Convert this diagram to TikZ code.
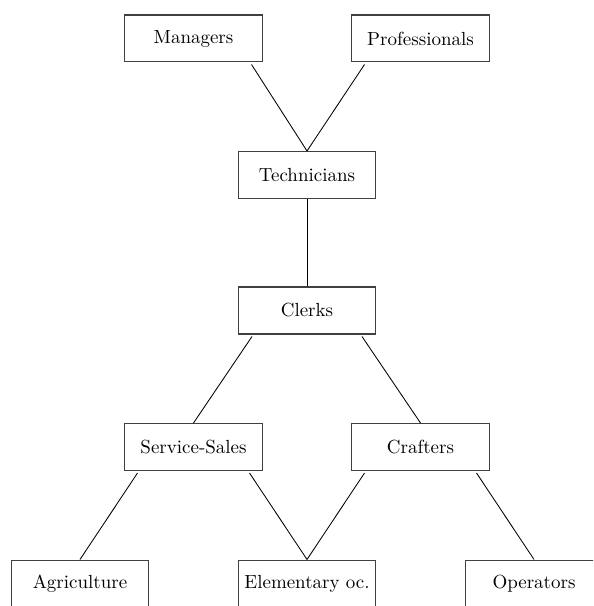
\documentclass[tikz,border=0pt]{standalone}
\usetikzlibrary{calc}
\begin{document}
\begin{tikzpicture}[x=0.527pt,y=-0.527pt,
  box/.style={draw=black!75,line width=0.7pt,fill=white,rectangle,minimum width=72.5pt,minimum height=24.6pt,inner sep=0pt,font=\normalsize},
  link/.style={draw=black,line width=0.45pt}]
\clip (0,0) rectangle (593,606);
\fill[white] (0,0) rectangle (593,606);
\node[box] (man) at (193.5,38.5) {Managers};
\node[box] (pro) at (420.5,38.5) {Professionals};
\node[box] (tec) at (307,175) {Technicians};
\node[box] (cle) at (307,310.5) {Clerks};
\node[box] (ser) at (193.5,447) {Service-Sales};
\node[box] (cra) at (420.5,447) {Crafters};
\node[box] (agr) at (80,583.5) {Agriculture};
\node[box] (ele) at (307,583.5) {Elementary oc.};
\node[box] (ope) at (534,583.5) {Operators};
\draw[link] ($(man.south)+(58,2)$) -- (tec.north);
\draw[link] ($(pro.south)+(-56,2)$) -- (tec.north);
\draw[link] (tec.south) -- (cle.north);
\draw[link] ($(cle.south)+(-55,2)$) -- (ser.north);
\draw[link] ($(cle.south)+(55,2)$) -- (cra.north);
\draw[link] ($(ser.south)+(-56,2)$) -- (agr.north);
\draw[link] ($(ser.south)+(56,2)$) -- (ele.north);
\draw[link] ($(cra.south)+(-56,2)$) -- (ele.north);
\draw[link] ($(cra.south)+(56,2)$) -- (ope.north);
\end{tikzpicture}
\end{document}
